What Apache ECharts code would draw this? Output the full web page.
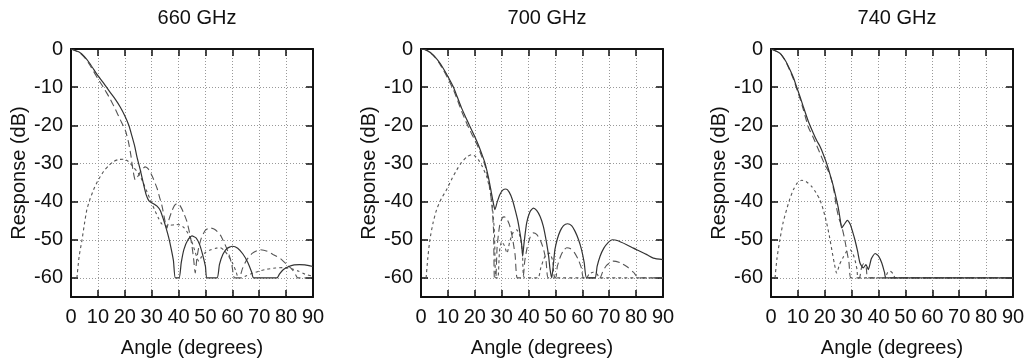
<!DOCTYPE html>
<html>
<head>
<meta charset="utf-8">
<script src="https://cdn.jsdelivr.net/npm/echarts/dist/echarts.min.js"></script>
<style>
  html, body { margin: 0; padding: 0; background: #fff; }
  #chart { width: 1031px; height: 364px; }
</style>
</head>
<body>
<div id="chart"></div>
<script>
// angle (deg), response (dB)
var titles = ['660 GHz', '700 GHz', '740 GHz'];
var xTicks = [0, 90, 10];
// attenuation axis (dB below peak), drawn inverted so ticks count from 0
var yTicks = [0, 65, 10];

var solid660 = [[0,0],[3,-0.8],[5,-2],[7,-3.8],[10,-7],[12,-8.8],[14.5,-11.3],[16.5,-13.2],[18.3,-15.2],[20,-17.5],[21.5,-20],[22.7,-22.9],[23.7,-25.5],[24.5,-28.2],[25.8,-31.8],[27,-35.5],[28,-38.3],[29,-39.8],[30,-40.3],[31,-40.7],[32,-41.2],[33.2,-42.3],[34.4,-44.7],[35.4,-47],[36.3,-49.3],[37.3,-52.5],[38.1,-55.5],[38.8,-60],[40.2,-60],[41,-56],[42,-52.5],[43.5,-50],[45,-49],[46.5,-49.5],[47.8,-51.2],[49,-54],[50,-57],[50.6,-60],[54.3,-60],[55.2,-56.5],[56.5,-53.8],[58,-52.3],[60,-51.7],[62,-52.2],[64,-53.8],[65.8,-56],[67.2,-58.5],[67.9,-60],[76.6,-60],[77.5,-59],[79,-57.8],[81,-57],[83,-56.6],[85,-56.5],[87,-56.6],[90,-57]];
var long660 = [[0,0],[3,-0.9],[5,-2.2],[7,-4.2],[10,-7.8],[12,-10],[14.5,-13],[16.5,-15.8],[18.3,-18.5],[20.2,-21.3],[21.4,-24.5],[22.3,-28],[23,-31.5],[23.9,-34.3],[25,-33.2],[26.3,-31.6],[27.6,-30.9],[28.8,-31.5],[30.3,-33.5],[32,-36.5],[33,-39],[33.8,-41],[34.6,-43.8],[35.3,-46.3],[35.7,-47],[36.3,-45],[37.5,-42.5],[38.5,-41],[39.4,-40.5],[40.5,-41],[41.8,-42.8],[43.1,-45.2],[44.2,-48.5],[45,-51.7],[45.6,-55],[46.2,-58.7],[46.8,-55],[47.5,-52],[48.5,-49.5],[50,-47.5],[51.8,-46.9],[53.5,-47.3],[55.5,-48.7],[57,-50.8],[58.6,-53.5],[59.8,-56.5],[60.8,-60],[62.5,-60],[63.8,-57.5],[65.4,-55.2],[67.5,-53.5],[70.4,-52.6],[73,-53],[75.3,-53.9],[78,-55],[80.3,-56.5],[82.3,-57.8],[83.5,-59.1],[84.3,-60],[90,-60]];
var short660 = [[2.2,-60],[3,-54.5],[4.1,-50],[5,-45.8],[5.9,-42.1],[7,-39.5],[8.4,-36.9],[10,-34.5],[12.1,-32.1],[14,-30.6],[15.8,-29.5],[17.5,-29],[19.6,-28.9],[21,-29.3],[22,-30],[23.5,-31.2],[25,-32.5],[26.5,-34.5],[28,-37],[29.5,-39.5],[31,-42],[32.5,-44.3],[33.7,-45.8],[35,-46.4],[37,-46.2],[39,-46],[40.5,-46.1],[42,-46.8],[43.5,-48.3],[44.8,-50.2],[46,-52.8],[47,-55],[47.6,-55.6],[48.5,-54.5],[50,-53.3],[52,-52.6],[54,-52.2],[55.5,-52.1],[57,-52.8],[58.5,-54.2],[60,-56],[61.2,-58],[62.3,-60],[63.5,-60],[65,-59.5],[67.5,-58.8],[70,-58.2],[73,-57.7],[76,-57.4],[79,-57.3],[82,-57.6],[84.5,-58.2],[87,-59],[90,-59.6]];

var solid700 = [[0,0],[2,-0.3],[4.6,-1.6],[6.5,-3.2],[8.3,-5.1],[10,-7.2],[12,-9.9],[13.5,-12.6],[15.1,-15.5],[16.7,-18],[18.2,-20.3],[19.8,-22.7],[21.3,-25.1],[22.6,-27.5],[23.8,-29.9],[25,-33.4],[26,-37],[26.8,-40],[27.5,-42.1],[28.3,-40.2],[29.3,-38.2],[30.4,-37],[31.6,-36.7],[32.8,-37.5],[34,-39.5],[35,-42.1],[36,-45],[36.8,-48.2],[37.4,-51],[37.8,-54.3],[38.3,-51],[39.3,-45.6],[40.5,-42.7],[41.8,-41.7],[43,-42.3],[44.3,-43.9],[45.5,-46.5],[46.7,-50.8],[47.5,-54.5],[48,-57.8],[48.6,-60],[49.3,-56],[49.8,-52.6],[50.7,-49.8],[51.7,-47.8],[53,-46.3],[54.5,-45.8],[56,-46.3],[57.3,-47.8],[58.6,-50],[59.7,-52.6],[60.7,-56],[61.6,-60],[64.7,-60],[65.5,-57],[66.6,-54.3],[68,-52.2],[69.5,-50.8],[71.2,-50],[73,-50.2],[76.5,-51.3],[79,-52.2],[81.4,-53],[84,-53.9],[86.4,-54.8],[90,-55.2]];
var long700 = [[0,0],[2,-0.3],[4.6,-1.7],[6.5,-3.4],[8.3,-5.5],[10,-7.7],[12,-10.6],[13.5,-13.3],[15.1,-16.3],[16.7,-19],[18.2,-21.3],[19.8,-23.6],[21.3,-25.8],[22.6,-28.2],[23.8,-30.5],[24.8,-33.5],[25.8,-37.5],[26.5,-42],[27,-48],[27.3,-60],[27.8,-60],[28.3,-52],[29.2,-46.5],[30.2,-44.3],[31,-44],[32,-44.6],[33,-46.3],[34,-49.5],[35,-54],[35.8,-60],[37.8,-60],[38.6,-55.5],[39.5,-52],[40.6,-49.3],[41.8,-48.2],[43,-48.6],[44.3,-50],[45.5,-52.3],[46.5,-55.5],[47.3,-60],[50,-60],[50.7,-57],[51.8,-54.5],[53,-52.8],[54.2,-52.1],[55.5,-52.3],[57,-53.3],[58.5,-55.2],[59.7,-57.5],[60.5,-60],[66.5,-60],[67.5,-58.5],[69,-56.7],[71.5,-55.6],[74,-56],[76.5,-57],[79,-58.5],[81,-60],[90,-60]];
var short700 = [[1.9,-60],[2.5,-55],[3.3,-50],[4.5,-45.5],[5.8,-42.1],[7.5,-39.3],[9.5,-36.9],[11.5,-34],[13.3,-31.7],[15,-29.8],[17,-28.3],[18.8,-27.7],[20,-28],[21.3,-29],[22.8,-30.8],[24.4,-33.4],[25.5,-36.5],[26.5,-41],[27.3,-48],[27.8,-60],[28.6,-60],[29.2,-53],[30,-50.5],[31,-51.5],[32,-53.5],[33,-50.5],[34.3,-48],[35.6,-47.4],[36.8,-49],[37.7,-53],[38.5,-60],[43.5,-60],[44.5,-57.5],[46,-54.5],[47.7,-53.5],[49,-55.5],[50,-60],[61.5,-60],[62.5,-59],[64,-58.5],[65.5,-59],[66.5,-60],[90,-60]];

var solid740 = [[0,0],[3.3,-1.1],[5.5,-3.2],[7.1,-5.5],[8.4,-7.6],[9.5,-9.9],[10.8,-12.5],[12,-15.1],[13.9,-19],[15.7,-22],[17,-24],[18.2,-25.5],[19.5,-27.7],[20.7,-30],[22,-33],[23.2,-36],[24.2,-39],[25,-41.5],[25.7,-44.5],[26.3,-46.9],[27.2,-46],[28.4,-44.9],[29.5,-46],[30.4,-48],[31.2,-50],[32.2,-53],[33.1,-56.1],[34.3,-57.4],[35.3,-56.5],[36.2,-57.8],[37.3,-55],[38.7,-53.6],[40,-54.3],[41.2,-56.1],[42.2,-58.5],[42.8,-60],[90,-60]];
var long740 = [[0,0],[3.3,-1.1],[5.5,-3.3],[7.1,-5.8],[8.4,-8],[9.5,-10.3],[10.8,-13],[12,-15.8],[13.9,-20.5],[15.7,-23.2],[17,-25.3],[18.5,-27.8],[20,-30.3],[21.3,-32],[22.5,-34.3],[23.5,-37.5],[24.4,-41.7],[25.3,-44.5],[26.3,-46.5],[27.3,-49.5],[28.1,-52.6],[29,-56],[29.7,-60],[32.8,-60],[33.6,-57.5],[34.5,-56.3],[35.4,-57.3],[36.2,-60],[90,-60]];
var short740 = [[1.5,-60],[2.2,-55],[3.3,-50],[4.5,-45.5],[5.8,-42.1],[7,-39.3],[8.3,-36.9],[9.8,-35.1],[11.4,-34.4],[13,-34.7],[15.1,-36],[16.7,-37.6],[18.2,-39.5],[19.5,-42.3],[20.7,-45.6],[21.7,-49],[22.6,-52.6],[23.5,-56],[24.4,-58.7],[25.5,-56.5],[26.9,-54.5],[28.2,-53],[29.4,-52.6],[30.4,-53.5],[31.3,-55.5],[32,-57.8],[32.5,-60],[42.3,-60],[43.3,-58.7],[44.3,-58.2],[45.3,-58.8],[46.3,-60],[90,-60]];

var panelData = [
  [solid660, long660, short660],
  [solid700, long700, short700],
  [solid740, long740, short740]
];
var gridLefts = [71, 421, 771];

var font = '"Liberation Sans", Arial, Helvetica, sans-serif';
var ink = '#111';

var myChart = echarts.init(document.getElementById('chart'));

var grids = [], xAxes = [], yAxes = [], series = [], titleList = [];
var frame = { show: true, onZero: false, lineStyle: { color: ink, width: 2 } };
var tick = { show: true, inside: true, length: 7, lineStyle: { color: ink, width: 1.5 } };
var dotted = { show: true, lineStyle: { color: '#999', width: 1, type: [1, 2] } };

// y is plotted as -dB on an inverted axis, label it back as dB
var dbLabel = function (v) {
  if (v > 60) return '';
  return v === 0 ? '0' : '-' + v;
};

var styles = [
  { color: '#333', width: 1.2, type: 'solid' },
  { color: '#555', width: 1.1, type: [7, 4] },
  { color: '#555', width: 1.1, type: [3, 3] }
];

for (var i = 0; i < 3; i++) {
  grids.push({ left: gridLefts[i], top: 49, width: 242, height: 248 });
  titleList.push({
    text: titles[i], left: gridLefts[i] + 121, top: 3, textAlign: 'center',
    textStyle: { fontFamily: font, fontSize: 20, fontWeight: 'normal', color: ink }
  });

  xAxes.push({
    gridIndex: i, type: 'value', position: 'bottom',
    min: xTicks[0], max: xTicks[1], interval: xTicks[2],
    axisLine: frame, axisTick: tick, splitLine: dotted,
    axisLabel: { fontFamily: font, fontSize: 20, color: ink, margin: 10 },
    name: 'Angle (degrees)', nameLocation: 'middle', nameGap: 41,
    nameTextStyle: { fontFamily: font, fontSize: 20, color: ink }
  });
  xAxes.push({
    gridIndex: i, type: 'value', position: 'top',
    min: xTicks[0], max: xTicks[1], interval: xTicks[2],
    axisLine: frame, axisTick: tick, splitLine: { show: false },
    axisLabel: { show: false }
  });

  yAxes.push({
    gridIndex: i, type: 'value', position: 'left', inverse: true,
    min: yTicks[0], max: yTicks[1], interval: yTicks[2],
    axisLine: frame, axisTick: tick, splitLine: dotted,
    axisLabel: { fontFamily: font, fontSize: 20, color: ink, margin: 8, formatter: dbLabel },
    name: 'Response (dB)', nameLocation: 'middle', nameGap: 42,
    nameTextStyle: { fontFamily: font, fontSize: 20, color: ink }
  });
  yAxes.push({
    gridIndex: i, type: 'value', position: 'right', inverse: true,
    min: yTicks[0], max: yTicks[1], interval: yTicks[2],
    axisLine: frame, axisTick: tick, splitLine: { show: false },
    axisLabel: { show: false }
  });

  for (var k = 2; k >= 0; k--) {
    series.push({
      type: 'line', xAxisIndex: i * 2, yAxisIndex: i * 2,
      data: panelData[i][k].map(function (p) { return [p[0], -p[1]]; }),
      symbol: 'none', smooth: 0.2,
      lineStyle: styles[k], silent: true
    });
  }
}

var option = {
  animation: false,
  backgroundColor: '#fff',
  title: titleList,
  grid: grids,
  xAxis: xAxes,
  yAxis: yAxes,
  series: series
};
myChart.setOption(option);
</script>
</body>
</html>
